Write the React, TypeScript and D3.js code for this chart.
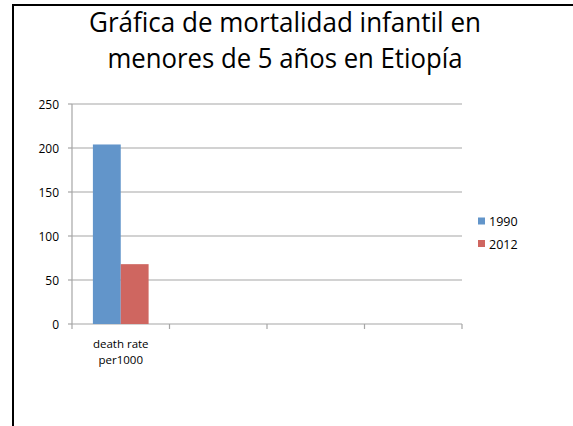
import React from "react";
import * as d3 from "d3";

const categories = ["death rate\nper1000", "", "", ""];
const seriesNames = ["1990", "2012"];
const values1990 = [204, null, null, null];
const values2012 = [68, null, null, null];
const yTicks = [0, 50, 100, 150, 200, 250];
const titleLines = ["Gráfica de mortalidad infantil en", "menores de 5 años en Etiopía"];
const colors = ["#6295ca", "#cf6660"];

export default function App() {
  const W = 573, H = 426;
  const left = 72, right = 462, top = 104, bottom = 324;
  const x = d3.scaleBand<number>().domain(d3.range(categories.length)).range([left, right]).paddingInner(0).paddingOuter(0);
  const y = d3.scaleLinear().domain([0, 250]).range([bottom, top]);
  const bw = x.bandwidth();
  const barW = bw / (2 + 1.5);
  const series = [values1990, values2012];
  const font = "'Open Sans', Calibri, sans-serif";
  const grid = "#a6a6a6";
  return (
    <svg width={W} height={H} style={{ position: "absolute", left: 0, top: 0, background: "#fff" }} fontFamily={font}>
      <rect x={0} y={0} width={W} height={H} fill="#fff" />
      <path d={`M13,${H} L13,5 L${W},5`} fill="none" stroke="#000" strokeWidth={2} />
      {titleLines.map((t, i) => (
        <text key={i} x={285} y={32 + i * 36} textAnchor="middle" fontSize={27} fill="#000"
          textLength={i === 0 ? 392 : 355} lengthAdjust="spacingAndGlyphs">{t}</text>
      ))}
      {yTicks.map((t) => (
        <g key={t}>
          {t > 0 && <line x1={left} x2={right} y1={y(t)} y2={y(t)} stroke={grid} strokeWidth={1.2} />}
          <line x1={left - 4} x2={left} y1={y(t)} y2={y(t)} stroke={grid} strokeWidth={1.2} />
          <text x={59} y={y(t) + 4.5} textAnchor="end" fontSize={12} fill="#000">{t}</text>
        </g>
      ))}
      <line x1={left} x2={left} y1={top} y2={bottom} stroke={grid} strokeWidth={1.2} />
      <line x1={left} x2={right} y1={bottom} y2={bottom} stroke={grid} strokeWidth={1.2} />
      {d3.range(categories.length + 1).map((i) => {
        const xx = left + i * bw;
        return <line key={i} x1={xx} x2={xx} y1={bottom} y2={bottom + 5} stroke={grid} strokeWidth={1.2} />;
      })}
      {series.map((vals, s) =>
        vals.map((v, i) =>
          v == null ? null : (
            <rect key={`${s}-${i}`} x={(x(i) as number) + barW * 0.75 + s * barW} y={y(v)} width={barW}
              height={bottom - y(v)} fill={colors[s]} />
          )
        )
      )}
      {categories.map((c, i) =>
        c.split("\n").map((line, j) => (
          <text key={`${i}-${j}`} x={(x(i) as number) + bw / 2} y={348 + j * 15.5} textAnchor="middle" fontSize={11.5} fill="#000">
            {line}
          </text>
        ))
      )}
      {seriesNames.map((n, i) => (
        <g key={n}>
          <rect x={478} y={217.5 + i * 22.5} width={7} height={7} fill={colors[i]} />
          <text x={489} y={226 + i * 23} fontSize={12.5} fill="#000">{n}</text>
        </g>
      ))}
    </svg>
  );
}
